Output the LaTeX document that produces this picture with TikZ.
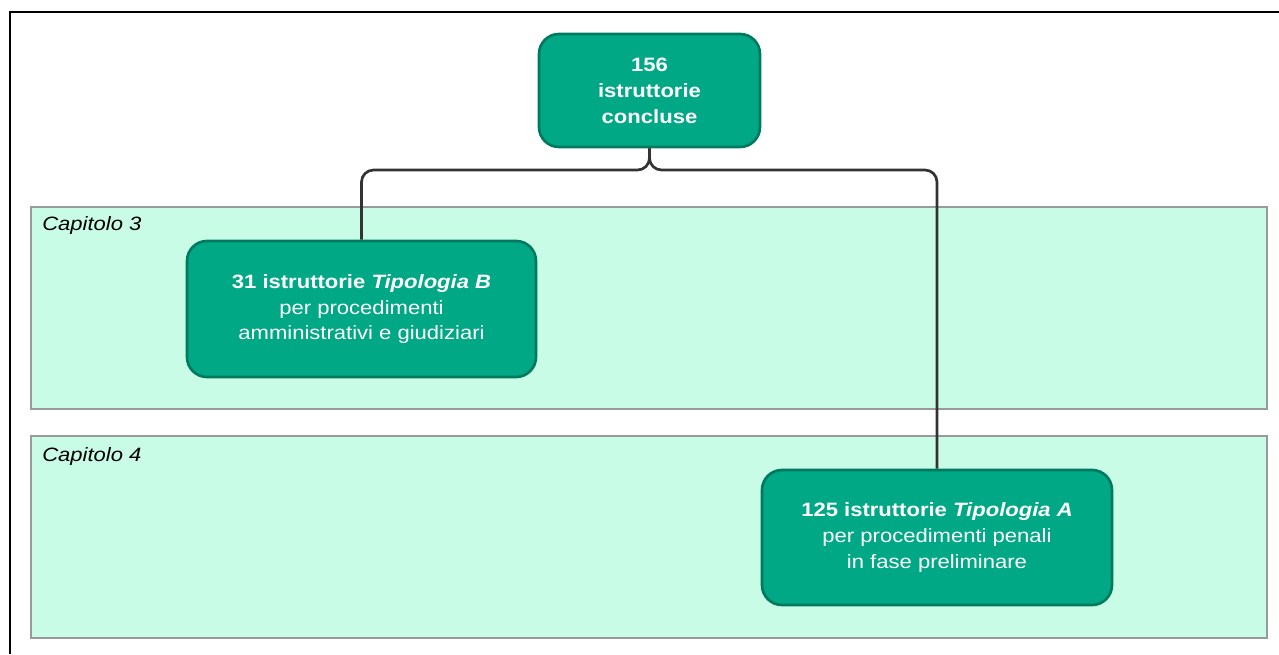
\documentclass[tikz,border=0pt]{standalone}
\usepackage{fontspec}
\setmainfont[FakeStretch=1.14]{Liberation Sans}
\usetikzlibrary{positioning}

\definecolor{boxgreen}{HTML}{00A886}
\definecolor{boxedge}{HTML}{007A5E}
\definecolor{bandfill}{HTML}{C8FCE6}
\definecolor{bandedge}{HTML}{9A9A9A}
\definecolor{wirecol}{HTML}{333333}

\begin{document}
\begin{tikzpicture}[x=0.75pt,y=-0.75pt,
	box/.style={draw=boxedge, fill=boxgreen, line width=2pt, rounded corners=15pt,
		text=white, align=center, inner sep=0pt,
		font=\fontsize{14.5}{19.2}\selectfont},
	band/.style={draw=bandedge, fill=bandfill, line width=1.2pt},
	wire/.style={draw=wirecol, line width=2pt, rounded corners=9pt}]

	\useasboundingbox (0,0) rectangle (1279,654);

	% frame
	\draw[line width=1.5pt] (10,654) -- (10,12) -- (1279,12);

	% chapters
	\draw[band] (31,207) rectangle (1267,409);
	\draw[band] (31,436) rectangle (1267,638);
	\node[anchor=north west, inner sep=0pt, font=\fontsize{14.5}{16}\selectfont\itshape] (cap3) at (42,216) {Capitolo 3};
	\node[anchor=north west, inner sep=0pt, font=\fontsize{14.5}{16}\selectfont\itshape] (cap4) at (42,447) {Capitolo 4};

	% boxes
	\node[box, minimum width=165.75pt, minimum height=84.75pt, font=\fontsize{14.5}{19.5}\selectfont\bfseries] (total) at (649.5,90.5) {156\\istruttorie\\concluse};
	\node[box, minimum width=261.75pt, minimum height=102pt] (tipB) at (361.5,309) {\textbf{31 istruttorie \textit{Tipologia B}}\\per procedimenti\\amministrativi e giudiziari};
	\node[box, minimum width=262.5pt, minimum height=101.25pt] (tipA) at (937,537.5) {\textbf{125 istruttorie \textit{Tipologia A}}\\per procedimenti penali\\in fase preliminare};

	% connectors
	\coordinate (fork) at (649.5,170);
	\draw[wire] (total.south) -- (fork) -| (tipB.north);
	\draw[wire] (total.south) -- (fork) -| (tipA.north);

\end{tikzpicture}
\end{document}
